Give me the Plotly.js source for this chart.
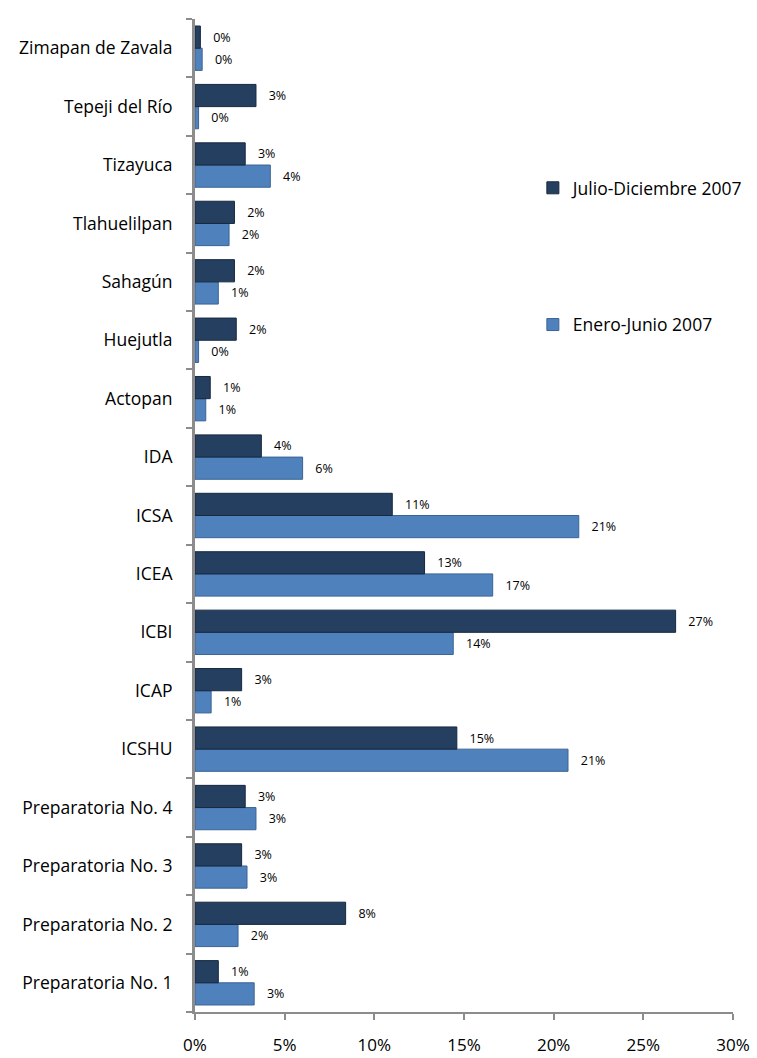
<!DOCTYPE html>
<html>
<head>
<meta charset="utf-8">
<script src="https://cdn.plot.ly/plotly-3.0.1.min.js"></script>
<style>html,body{margin:0;padding:0;background:#fff;}#chart{width:757px;height:1058px;}</style>
</head>
<body>
<div id="chart"></div>
<script>
const categories = [
  "Preparatoria No. 1", "Preparatoria No. 2", "Preparatoria No. 3", "Preparatoria No. 4",
  "ICSHU", "ICAP", "ICBI", "ICEA", "ICSA", "IDA", "Actopan", "Huejutla",
  "Sahagún", "Tlahuelilpan", "Tizayuca", "Tepeji del Río", "Zimapan de Zavala"
];
const julioDiciembre2007 = [1.3, 8.4, 2.6, 2.8, 14.6, 2.6, 26.8, 12.8, 11.0, 3.7, 0.85, 2.3, 2.2, 2.2, 2.8, 3.4, 0.3];
const eneroJunio2007     = [3.3, 2.4, 2.9, 3.4, 20.8, 0.9, 14.4, 16.6, 21.4, 6.0, 0.6, 0.2, 1.3, 1.9, 4.2, 0.2, 0.4];
const xTickVals = [0, 5, 10, 15, 20, 25, 30];
const xTickText = ["0%", "5%", "10%", "15%", "20%", "25%", "30%"];

const FONT = "'Open Sans', 'Noto Sans', 'DejaVu Sans', sans-serif";
const PAD = "\u00A0\u00A0\u00A0";

const traces = [
  {
    type: "bar", orientation: "h", name: "Enero-Junio 2007", legendgroup: "b", legendrank: 2,
    y: categories, x: eneroJunio2007,
    marker: {color: "#4F81BD", line: {color: "#3A6496", width: 1}},
    texttemplate: PAD + "%{x:.0f}%", textposition: "outside", cliponaxis: false,
    textfont: {size: 12.5, color: "#000", family: FONT}, constraintext: "none",
    hoverinfo: "skip"
  },
  {
    type: "bar", orientation: "h", name: "Julio-Diciembre 2007", legendgroup: "a", legendrank: 1,
    y: categories, x: julioDiciembre2007,
    marker: {color: "#243F60", line: {color: "#17283F", width: 1}},
    texttemplate: PAD + "%{x:.0f}%", textposition: "outside", cliponaxis: false,
    textfont: {size: 12.5, color: "#000", family: FONT}, constraintext: "none",
    hoverinfo: "skip"
  }
];

const layout = {
  width: 757, height: 1058,
  margin: {l: 195, r: 24, t: 19, b: 46, autoexpand: false},
  paper_bgcolor: "#fff", plot_bgcolor: "#fff",
  font: {family: FONT, color: "#000", size: 15},
  barmode: "group", bargap: 0.24, bargroupgap: 0.0,
  showlegend: true,
  legend: {
    x: 0.628, y: 0.848, xanchor: "left", yanchor: "top",
    traceorder: "grouped", tracegroupgap: 111,
    font: {size: 17.5, family: FONT, color: "#000"},
    bgcolor: "rgba(0,0,0,0)"
  },
  xaxis: {
    range: [0, 30], tickvals: xTickVals, ticktext: xTickText,
    showgrid: false, zeroline: false,
    showline: true, linecolor: "#8C8C8C", linewidth: 2,
    ticks: "outside", ticklen: 6, tickcolor: "#8C8C8C", tickwidth: 2,
    tickfont: {size: 17, family: FONT, color: "#000"},
    ticklabelstandoff: 11,
    automargin: false,
    fixedrange: true
  },
  yaxis: {
    type: "category", categoryorder: "array", categoryarray: categories,
    showgrid: false, zeroline: false,
    showline: true, linecolor: "#8C8C8C", linewidth: 3,
    ticks: "outside", ticklen: 6, tickcolor: "#8C8C8C", tickwidth: 2,
    tickson: "boundaries",
    tickfont: {size: 17.5, family: FONT, color: "#000"},
    ticklabelstandoff: 16,
    automargin: false,
    fixedrange: true
  }
};

Plotly.newPlot("chart", traces, layout, {displayModeBar: false, staticPlot: true});
</script>
</body>
</html>
